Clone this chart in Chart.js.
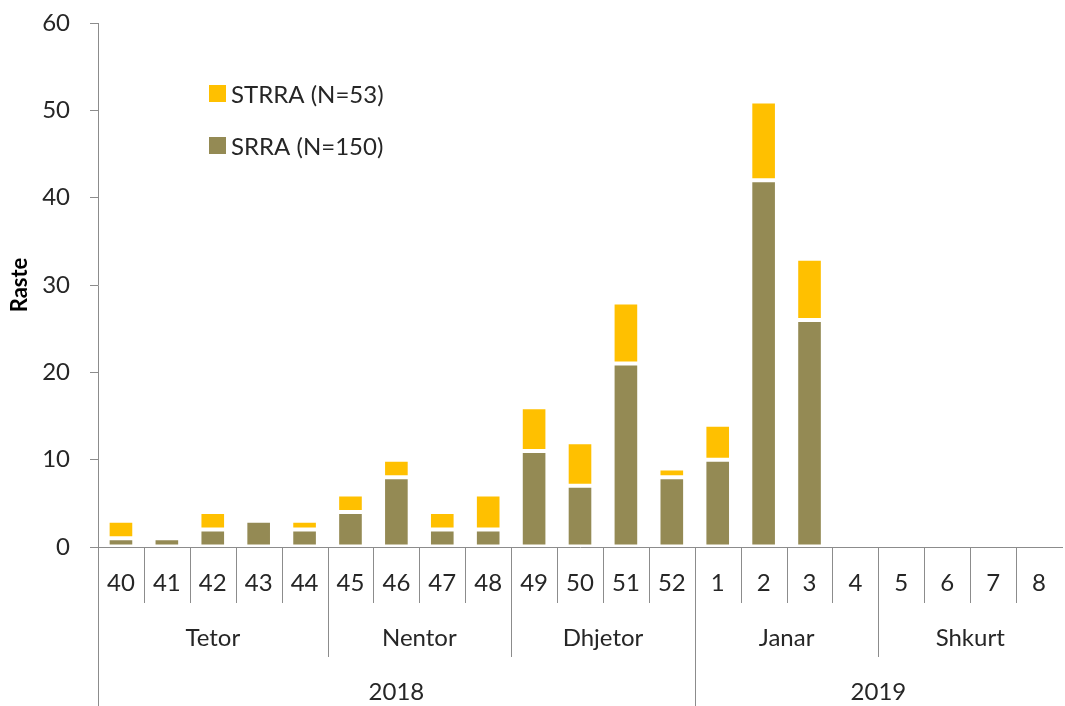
<!DOCTYPE html>
<html><head><meta charset="utf-8">
<script src="https://cdn.jsdelivr.net/npm/chart.js@4"></script>
<style>html,body{margin:0;padding:0;background:#fff;}#wrap{width:1065px;height:706px;position:relative;}</style>
</head><body><div id="wrap"><canvas id="c" width="1065" height="706"></canvas></div>
<script>
const weeks = ['40','41','42','43','44','45','46','47','48','49','50','51','52','1','2','3','4','5','6','7','8'];
const months = [['Tetor',5],['Nentor',4],['Dhjetor',4],['Janar',4],['Shkurt',4]];
const years = [['2018',13],['2019',8]];
const srra  = [1,1,2,3,2,4,8,2,2,11,7,21,8,10,42,26,0,0,0,0,0];
const strra = [2,0,2,0,1,2,2,2,4,5,5,7,1,4,9,7,0,0,0,0,0];
const seriesNames = ['SRRA (N=150)','STRRA (N=53)'];
const yTicks = [0,10,20,30,40,50,60];

const FONT = 'Lato, "Open Sans", sans-serif';
const FS = 24;
const TXT = '#262626';
const AX = '#8c8c8c';
const OLIVE = '#948A54', GOLD = '#FFC000';

const multiAxis = {
  id:'multiAxis',
  afterDraw(chart){
    const ctx = chart.ctx, x = chart.scales.x, top = chart.chartArea.bottom;
    const n = weeks.length;
    const w = (chart.chartArea.right - chart.chartArea.left)/n;
    const L = chart.chartArea.left;
    const rowW = top+56, rowM = top+110, rowY = 706;
    ctx.save();
    ctx.strokeStyle = AX; ctx.lineWidth = 1;
    const monthB = new Set(); let acc=0; months.forEach(m=>{acc+=m[1]; monthB.add(acc);});
    const yearB = new Set(); acc=0; years.forEach(y=>{acc+=y[1]; yearB.add(acc);});
    for(let i=0;i<n;i++){
      const bx = Math.round(L + i*w)+0.5;
      let bottom = rowW;
      if(i===0 || yearB.has(i)) bottom = rowY;
      else if(monthB.has(i)) bottom = rowM;
      ctx.beginPath(); ctx.moveTo(bx, top); ctx.lineTo(bx, bottom); ctx.stroke();
    }
    ctx.fillStyle = TXT; ctx.textAlign='center'; ctx.textBaseline='middle';
    ctx.font = FS+'px '+FONT;
    weeks.forEach((lab,i)=>{ ctx.fillText(lab, x.getPixelForValue(i), top+36); });
    acc=0;
    months.forEach(([lab,c])=>{ const cx = L + (acc + c/2)*w; ctx.fillText(lab, cx, top+91); acc+=c; });
    acc=0;
    years.forEach(([lab,c])=>{ const cx = L + (acc + c/2)*w; ctx.fillText(lab, cx, top+145); acc+=c; });
    const items = [[seriesNames[1],GOLD,94],[seriesNames[0],OLIVE,146]];
    ctx.textAlign='left';
    items.forEach(([lab,col,cy])=>{
      ctx.fillStyle = col; ctx.fillRect(209, cy-9, 17, 17);
      ctx.fillStyle = TXT; ctx.fillText(lab, 231, cy+1);
    });
    ctx.restore();
  }
};

new Chart(document.getElementById('c'), {
  type:'bar',
  data:{ labels: weeks, datasets:[
    {label:seriesNames[0], data:srra, backgroundColor:OLIVE, borderColor:'#ffffff', borderWidth:2, borderSkipped:false, barPercentage:0.58, categoryPercentage:1},
    {label:seriesNames[1], data:strra, backgroundColor:GOLD, borderColor:'#ffffff', borderWidth:2, borderSkipped:false, barPercentage:0.58, categoryPercentage:1}
  ]},
  options:{
    responsive:false, animation:false, devicePixelRatio:1,
    layout:{padding:{top:23,right:3,bottom:0,left:0}},
    plugins:{legend:{display:false}, tooltip:{enabled:false}},
    scales:{
      x:{ stacked:true, offset:true,
        grid:{display:false, drawTicks:false},
        border:{display:true, color:AX, width:1},
        ticks:{display:false},
        afterFit(s){ s.height = 159; s.paddingLeft = 0; s.paddingRight = 0; } },
      y:{ stacked:true, min:0, max:60,
        afterBuildTicks(s){ s.ticks = yTicks.map(v=>({value:v})); },
        grid:{drawOnChartArea:false, drawTicks:true, tickLength:8, color:AX},
        border:{display:true, color:AX, width:1},
        ticks:{color:TXT, font:{family:FONT, size:FS}, padding:20},
        title:{display:true, text:'Raste', color:'#000', font:{family:FONT, size:22, weight:'bold'}, padding:{top:7,bottom:0}},
        afterFit(s){ s.width = 98; s.paddingTop = 0; s.paddingBottom = 0; } }
    }
  },
  plugins:[multiAxis]
});
</script></body></html>
